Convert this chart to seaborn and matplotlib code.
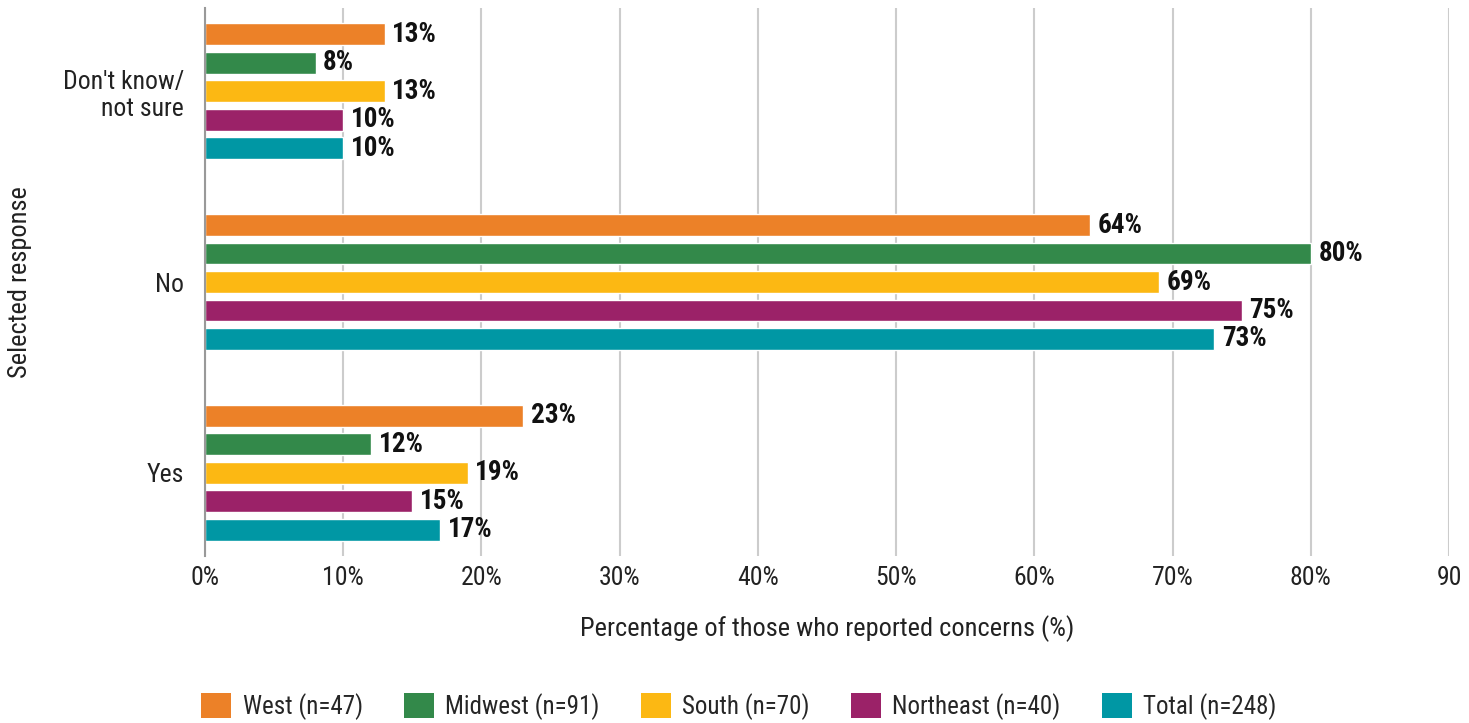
import matplotlib
matplotlib.use("Agg")
import matplotlib.pyplot as plt
from matplotlib import font_manager
from matplotlib.patches import Patch
import seaborn as sns
import pandas as pd

# Survey responses by region (percent of those who reported concerns)
responses = ["Don't know/\nnot sure", "No", "Yes"]
regions = ["West (n=47)", "Midwest (n=91)", "South (n=70)", "Northeast (n=40)", "Total (n=248)"]
west = [13, 64, 23]
midwest = [8, 80, 12]
south = [13, 69, 19]
northeast = [10, 75, 15]
total = [10, 73, 17]
colors = ["#EC8128", "#33894A", "#FCB813", "#9B2268", "#0097A4"]
x_ticks = [0, 10, 20, 30, 40, 50, 60, 70, 80, 90]
x_tick_labels = ["0%", "10%", "20%", "30%", "40%", "50%", "60%", "70%", "80%", "90"]

series = [west, midwest, south, northeast, total]
rows = []
for region, vals in zip(regions, series):
    for resp, v in zip(responses, vals):
        rows.append({"response": resp, "region": region, "pct": v})
df = pd.DataFrame(rows)

sns.set_theme(style="white")
installed = {f.name for f in font_manager.fontManager.ttflist}
family = "DejaVu Sans"
for cand in ["Roboto Condensed", "Liberation Sans Narrow", "Open Sans Condensed", "Roboto", "Liberation Sans"]:
    if cand in installed:
        family = cand
        break
plt.rcParams["font.family"] = [family, "DejaVu Sans"]

fig = plt.figure(figsize=(14.69, 7.23), dpi=100)
ax = fig.add_axes([205 / 1469, 1 - 556 / 723, (1449 - 205) / 1469, (556 - 8) / 723])

sns.barplot(data=df, y="response", x="pct", hue="region", order=responses,
            hue_order=regions, palette=colors, orient="h", width=0.746, gap=0.23,
            saturation=1, errorbar=None, legend=False, ax=ax)

for cont in ax.containers:
    ax.bar_label(cont, fmt="%d%%", padding=5.5, fontsize=19.5, fontweight="bold", color="#111111")

ax.set_xlim(0, 90)
ax.set_ylim(2.435, -0.435)
ax.set_xticks(x_ticks)
ax.set_xticklabels(x_tick_labels)
ax.tick_params(axis="x", length=0, pad=7, labelsize=18.5, colors="#222222")
ax.tick_params(axis="y", length=0, pad=15, labelsize=18.5, colors="#222222")
ax.xaxis.grid(True, color="#CCCCCC", linewidth=1.5)
ax.set_axisbelow(True)
for side in ["top", "right", "bottom"]:
    ax.spines[side].set_visible(False)
ax.spines["left"].set_color("#999999")
ax.spines["left"].set_linewidth(1.5)

ax.set_xlabel("Percentage of those who reported concerns (%)", fontsize=19, labelpad=18, color="#222222")
ax.set_ylabel("Selected response", fontsize=19, labelpad=22, color="#222222")

handles = [Patch(facecolor=c, edgecolor="none") for c in colors]
fig.legend(handles, regions, loc="lower center", bbox_to_anchor=(0.503, -0.027), ncol=5,
           frameon=False, fontsize=18, handlelength=1.2, handleheight=1.2,
           columnspacing=1.65, handletextpad=0.45)

fig.savefig("out.png", dpi=100)
